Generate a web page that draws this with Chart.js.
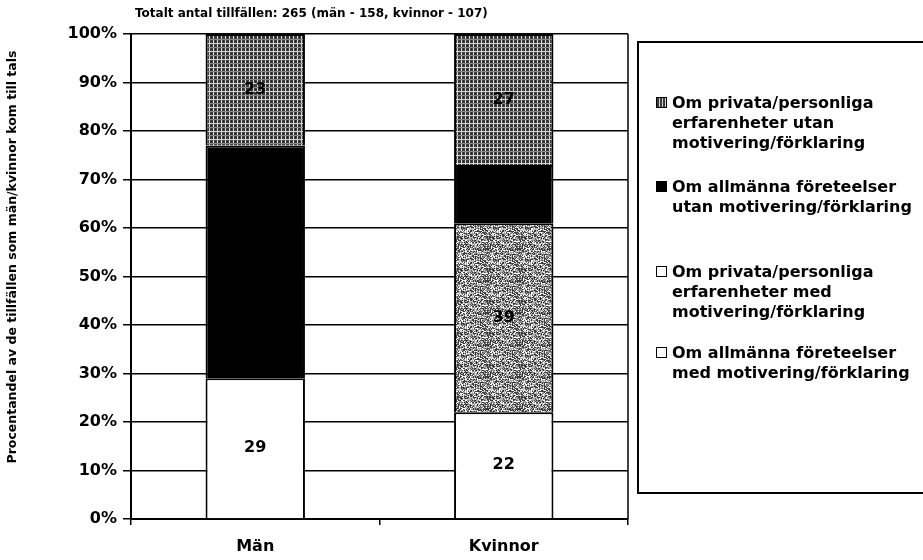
<!DOCTYPE html>
<html>
<head>
<meta charset="utf-8">
<script src="https://cdn.jsdelivr.net/npm/chart.js@4/dist/chart.umd.min.js"></script>
<style>
  html, body { margin: 0; padding: 0; background: #fff; }
  #wrap { position: relative; width: 923px; height: 560px; overflow: hidden; background: #fff; }
  #c { position: absolute; left: 0; top: 0; }
  #title { position: absolute; left: 135px; top: 6px; font: bold 12px "DejaVu Sans", sans-serif; color: #000; white-space: nowrap; }
  #legend { position: absolute; left: 637px; top: 41px; width: 300px; height: 453px; border: 2px solid #000; box-sizing: border-box; }
  .item { position: absolute; left: 17px; font: bold 16px "DejaVu Sans", sans-serif; line-height: 20px; color: #000; }
  .item .ico { position: absolute; left: 0; top: 4px; width: 11px; height: 11px; box-sizing: border-box; border: 1px solid #000; background: #fff; }
  .item .txt { position: absolute; left: 16px; top: 0; white-space: nowrap; }
</style>
</head>
<body>
<div id="wrap">
  <canvas id="c" width="923" height="560"></canvas>
  <div id="title">Totalt antal tillfällen: 265 (män - 158, kvinnor - 107)</div>
  <div id="legend"></div>
</div>
<script>
// ---- data ----
const categories = ['Män', 'Kvinnor'];
const allmannaMed = [29, 22];     // Om allmänna företeelser med motivering/förklaring
const privataMed = [0, 39];       // Om privata/personliga erfarenheter med motivering/förklaring
const allmannaUtan = [48, 12];    // Om allmänna företeelser utan motivering/förklaring
const privataUtan = [23, 27];     // Om privata/personliga erfarenheter utan motivering/förklaring
const seriesNames = [
  'Om allmänna företeelser med motivering/förklaring',
  'Om privata/personliga erfarenheter med motivering/förklaring',
  'Om allmänna företeelser utan motivering/förklaring',
  'Om privata/personliga erfarenheter utan motivering/förklaring'
];
const yTickValues = [0, 10, 20, 30, 40, 50, 60, 70, 80, 90, 100];
const yTitle = 'Procentandel av de tillfällen som män/kvinnor kom till tals';

// legend text lines (as in the picture, top to bottom)
const legendLines = [
  ['Om privata/personliga', 'erfarenheter utan', 'motivering/förklaring'],
  ['Om allmänna företeelser', 'utan motivering/förklaring'],
  ['Om privata/personliga', 'erfarenheter med', 'motivering/förklaring'],
  ['Om allmänna företeelser', 'med motivering/förklaring']
];

// ---- textures ----
const ctx = document.getElementById('c').getContext('2d');
function hatchPattern() {
  const c = document.createElement('canvas'); c.width = 8; c.height = 8;
  const g = c.getContext('2d');
  g.fillStyle = '#3a3a3a'; g.fillRect(0, 0, 8, 8);
  g.fillStyle = '#d6d6d6';
  g.fillRect(1, 0, 1, 8); g.fillRect(5, 0, 1, 8); g.fillRect(0, 3, 8, 1);
  g.fillStyle = '#8a8a8a'; g.fillRect(0, 7, 8, 1);
  g.fillStyle = '#1e1e1e'; g.fillRect(3, 5, 1, 1); g.fillRect(7, 1, 1, 1);
  return ctx.createPattern(c, 'repeat');
}
function speckPattern() {
  const n = 32;
  const c = document.createElement('canvas'); c.width = n; c.height = n;
  const g = c.getContext('2d');
  for (let y = 0; y < n; y++) for (let x = 0; x < n; x++) {
    const s = Math.sin(x * 12.9898 + y * 78.233) * 43758.5453;
    const v = s - Math.floor(s);
    g.fillStyle = v < 0.36 ? '#3c3c3c' : v < 0.6 ? '#8c8c8c' : v < 0.8 ? '#bdbdbd' : '#ffffff';
    g.fillRect(x, y, 1, 1);
  }
  return ctx.createPattern(c, 'repeat');
}
const fills = ['#ffffff', speckPattern(), '#000000', hatchPattern()];
const seriesData = [allmannaMed, privataMed, allmannaUtan, privataUtan];

const FONT = '"DejaVu Sans", sans-serif';

const valueLabels = {
  id: 'valueLabels',
  afterDatasetsDraw(chart) {
    const c = chart.ctx;
    c.save();
    c.font = 'bold 16px ' + FONT;
    c.fillStyle = '#000';
    c.textAlign = 'center';
    c.textBaseline = 'middle';
    chart.data.datasets.forEach((ds, di) => {
      chart.getDatasetMeta(di).data.forEach((el, i) => {
        const v = ds.data[i];
        if (!v) return;
        c.fillText(String(v), el.x, (el.y + el.base) / 2);
      });
    });
    c.restore();
  },
  afterDraw(chart) {
    const a = chart.chartArea, c = chart.ctx;
    c.save();
    c.strokeStyle = '#000'; c.lineWidth = 1.5;
    c.beginPath(); c.moveTo(a.right, a.top); c.lineTo(a.right, a.bottom); c.stroke();
    // y axis title (rotated), placed like the original
    c.translate(13, 257);
    c.rotate(-Math.PI / 2);
    c.font = 'bold 12.5px ' + FONT;
    c.fillStyle = '#000';
    c.textAlign = 'center';
    c.textBaseline = 'middle';
    c.fillText(yTitle, 0, 0);
    c.restore();
  }
};

new Chart(ctx, {
  type: 'bar',
  data: {
    labels: categories,
    datasets: seriesData.map((d, i) => ({
      label: seriesNames[i],
      data: d,
      backgroundColor: fills[i],
      borderColor: '#000',
      borderWidth: 2,
      barPercentage: 0.4,
      categoryPercentage: 1.0
    }))
  },
  options: {
    responsive: false,
    animation: false,
    devicePixelRatio: 1,
    layout: { padding: { top: 34, right: 295, left: 0, bottom: 0 } },
    plugins: { legend: { display: false }, tooltip: { enabled: false } },
    scales: {
      x: {
        stacked: true,
        offset: true,
        grid: { offset: true, drawOnChartArea: false, color: '#000', lineWidth: 1.5, tickLength: 6 },
        border: { color: '#000', width: 2 },
        ticks: { color: '#000', font: { family: FONT, weight: 'bold', size: 16 }, padding: 12 },
        afterFit(s) { s.height = 41; }
      },
      y: {
        stacked: true,
        min: 0, max: 100,
        afterBuildTicks(s) { s.ticks = yTickValues.map(v => ({ value: v })); },
        ticks: { color: '#000', font: { family: FONT, weight: 'bold', size: 16 }, padding: 6,
                 callback: v => v + '%' },
        grid: { color: '#000', lineWidth: 1.5, tickLength: 8 },
        border: { color: '#000', width: 2 },
        title: { display: false, text: yTitle },
        afterFit(s) { s.width = 131; }
      }
    }
  },
  plugins: [valueLabels]
});

// ---- HTML legend (wrapped text like the original) ----
const legendTops = [50, 134, 219, 300]; // top of first line, relative to legend box
const icoStyles = [
  'background: repeating-linear-gradient(90deg, #3a3a3a 0 2px, #d0d0d0 2px 3px), #3a3a3a;',
  'background: #000;',
  'background: #fff;',
  'background: #fff;'
];
const leg = document.getElementById('legend');
legendLines.forEach((lines, i) => {
  const d = document.createElement('div');
  d.className = 'item';
  d.style.top = legendTops[i] + 'px';
  d.innerHTML = '<span class="ico" style="' + icoStyles[i] + '"></span><span class="txt">' + lines.join('<br>') + '</span>';
  leg.appendChild(d);
});
</script>
</body>
</html>
